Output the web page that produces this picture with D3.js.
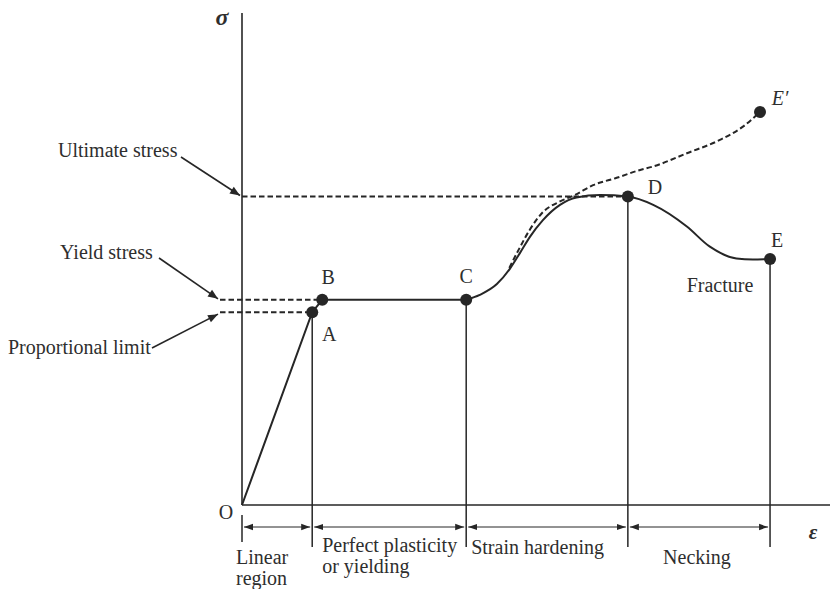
<!DOCTYPE html>
<html><head><meta charset="utf-8">
<script src="https://cdn.jsdelivr.net/npm/d3@7"></script>
<style>
html,body{margin:0;padding:0;background:#fff;}
svg text{font-family:"Liberation Serif","Times New Roman",serif;fill:#2e2e2e;}
</style></head>
<body>
<svg id="chart" width="832" height="589"></svg>
<script>
// ---- data (strain, stress in arbitrary units) ----
const linearPart = [[0,0],[1.19,3.92],[1.36,4.17],[3.80,4.17]];
const engCurve = [
  [3.80,4.17],[4.03,4.27],[4.32,4.49],[4.54,4.80],[4.71,5.12],[4.88,5.45],[5.10,5.79],[5.39,6.10],[5.67,6.25],[6.07,6.30],[6.54,6.27],
  [6.97,6.10],[7.54,5.66],[7.93,5.25],[8.38,5.01],[8.66,4.99],[8.95,5.0]
];
const trueCurve = [
  [4.53,4.82],[4.69,5.19],[4.87,5.58],[5.09,5.94],[5.39,6.17],[5.64,6.30],[5.95,6.50],[6.35,6.65],[6.75,6.81],[6.97,6.88],[7.54,7.15],[8.10,7.42],[8.49,7.69],[8.78,7.99]
];
const pointNames = ["A","B","C","D","E","E\u2032"];
const pointValues = [[1.19,3.92],[1.36,4.17],[3.80,4.17],[6.54,6.27],[8.95,5.0],[8.78,7.99]];
const regionBounds = [0,1.19,3.80,6.54,8.95];
const regionLabels = [["Linear","region"],["Perfect plasticity","or yielding"],["Strain hardening"],["Necking"]];
const stressLevels = ["Ultimate stress","Yield stress","Proportional limit"];
const stressValues = [6.27,4.17,3.92];

// ---- scales ----
const x = d3.scaleLinear().domain([0,10]).range([242,832]);
const y = d3.scaleLinear().domain([0,10]).range([505,13]);
const svg = d3.select("#chart");
const ink = "#262626";
const FS = 20;

const defs = svg.append("defs");
function marker(id, orient){
  defs.append("marker").attr("id",id).attr("viewBox","0 0 10 10").attr("refX",10).attr("refY",5)
    .attr("markerWidth",9).attr("markerHeight",9).attr("markerUnits","userSpaceOnUse").attr("orient",orient)
    .append("path").attr("d","M0,1.5 L10,5 L0,8.5 Z").attr("fill",ink);
}
marker("arr","auto");
marker("arrS","auto-start-reverse");
defs.append("marker").attr("id","arrL").attr("viewBox","0 0 10 10").attr("refX",10).attr("refY",5)
  .attr("markerWidth",13).attr("markerHeight",10).attr("markerUnits","userSpaceOnUse").attr("orient","auto")
  .append("path").attr("d","M0,1 L10,5 L0,9 Z").attr("fill",ink);

// axes
svg.append("line").attr("x1",x(0)).attr("x2",x(0)).attr("y1",y(10)).attr("y2",y(0)).attr("stroke",ink).attr("stroke-width",1.6);
svg.append("line").attr("x1",x(0)).attr("x2",x(10)-2).attr("y1",y(0)).attr("y2",y(0)).attr("stroke",ink).attr("stroke-width",1.6);
svg.append("text").attr("x",x(0)-20).attr("y",y(10)+12).attr("font-size",24).attr("font-style","italic").attr("font-weight","bold").attr("text-anchor","middle").text("\u03c3");
svg.append("text").attr("x",813).attr("y",y(0)+34).attr("font-size",21).attr("font-style","italic").attr("font-weight","bold").attr("text-anchor","middle").text("\u03b5");
svg.append("text").attr("x",x(0)-16).attr("y",y(0)+7).attr("dy","0.35em").attr("font-size",FS).attr("text-anchor","middle").text("O");

// region boundary verticals
regionBounds.forEach((b,i)=>{
  let top;
  if(i===0) top = y(0)+10;
  else { const p = pointValues[[0,2,3,4][i-1]]; top = y(p[1]); }
  svg.append("line").attr("x1",x(b)).attr("x2",x(b)).attr("y1",top).attr("y2",i===0?542:547).attr("stroke",ink).attr("stroke-width",1.5);
});
// dimension arrows
for(let i=0;i<regionBounds.length-1;i++){
  svg.append("line").attr("x1",x(regionBounds[i])+2).attr("x2",x(regionBounds[i+1])-2).attr("y1",527).attr("y2",527)
    .attr("stroke",ink).attr("stroke-width",1).attr("marker-end","url(#arr)").attr("marker-start","url(#arrS)");
}
// region labels
const labelPos = [[x(regionBounds[0])-6,557,20.5,"start"],[x(regionBounds[1])+10,545,21,"start"],[x(regionBounds[2])+5,547,0,"start"],[697,557,0,"middle"]];
regionLabels.forEach((lines,i)=>{
  const [lx,ly,dy,anchor]=labelPos[i];
  lines.forEach((s,j)=>{
    svg.append("text").attr("x",lx).attr("y",ly+j*dy).attr("dy","0.35em").attr("font-size",FS).attr("text-anchor",anchor).text(s);
  });
});

// stress level dashed lines
const dashX0 = [x(0), 220, 220];
const dashX1 = [x(pointValues[3][0]), x(pointValues[1][0]), x(pointValues[0][0])];
stressValues.forEach((v,i)=>{
  svg.append("line").attr("x1",dashX0[i]).attr("x2",dashX1[i]).attr("y1",y(v)).attr("y2",y(v))
    .attr("stroke",ink).attr("stroke-width",2).attr("stroke-dasharray","5.5,3");
});
// stress labels + arrows
const labelAt = [[58,150,181,157],[60,252,159,258],[8,347,152,348]];
stressLevels.forEach((t,i)=>{
  const [tx,ty,ax,ay]=labelAt[i];
  svg.append("text").attr("x",tx).attr("y",ty).attr("dy","0.35em").attr("font-size",FS).text(t);
  const tipX = dashX0[i]-2, tipY = y(stressValues[i]) + (i===2?2:-1);
  svg.append("line").attr("x1",ax).attr("y1",ay).attr("x2",tipX).attr("y2",tipY)
    .attr("stroke",ink).attr("stroke-width",1.6).attr("marker-end","url(#arrL)");
});

// curves
const line = d3.line().x(d=>x(d[0])).y(d=>y(d[1]));
svg.append("path").attr("d",line.curve(d3.curveLinear)(linearPart)).attr("fill","none").attr("stroke",ink).attr("stroke-width",2);
svg.append("path").attr("d",line.curve(d3.curveMonotoneX)(engCurve)).attr("fill","none").attr("stroke",ink).attr("stroke-width",2);
svg.append("path").attr("d",line.curve(d3.curveMonotoneX)(trueCurve)).attr("fill","none").attr("stroke",ink).attr("stroke-width",2).attr("stroke-dasharray","5.5,3");

// points
svg.selectAll("circle.pt").data(pointValues).enter().append("circle").attr("class","pt")
  .attr("cx",d=>x(d[0])).attr("cy",d=>y(d[1])).attr("r",6).attr("fill",ink);
const nameOff = [[17,22,"normal"],[6,-23,"normal"],[0,-24,"normal"],[27,-10,"normal"],[7,-19,"normal"],[20,-14,"italic"]];
pointNames.forEach((n,i)=>{
  const p=pointValues[i];
  svg.append("text").attr("x",x(p[0])+nameOff[i][0]).attr("y",y(p[1])+nameOff[i][1]).attr("dy","0.35em")
    .attr("text-anchor","middle").attr("font-size",FS).attr("font-style",nameOff[i][2]).text(n);
});
svg.append("text").attr("x",720).attr("y",285).attr("dy","0.35em").attr("text-anchor","middle").attr("font-size",FS).text("Fracture");
</script>
</body></html>
